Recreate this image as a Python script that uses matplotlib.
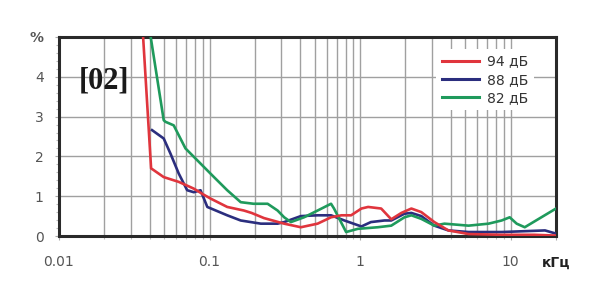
import matplotlib
matplotlib.use("Agg")
import matplotlib.pyplot as plt
from matplotlib.ticker import FixedLocator, MultipleLocator, LogLocator, NullFormatter

# ---- data (frequency kHz, THD %) ----
red_f = [0.0358, 0.0409, 0.0496, 0.0624, 0.0786, 0.0894, 0.1016, 0.131, 0.169, 0.19, 0.23,
         0.313, 0.404, 0.522, 0.641, 0.75, 0.871, 1.02, 1.13, 1.38, 1.61, 1.88, 2.19, 2.55,
         3.11, 3.86, 5.25, 8.71, 14.4, 20.0]
red_v = [5.3, 1.70, 1.48, 1.36, 1.19, 1.06, 0.94, 0.73, 0.64, 0.58, 0.45,
         0.31, 0.22, 0.31, 0.47, 0.52, 0.52, 0.69, 0.73, 0.69, 0.42, 0.58, 0.69, 0.60,
         0.35, 0.14, 0.05, 0.03, 0.03, 0.01]

blue_f = [0.0415, 0.0496, 0.055, 0.0624, 0.071, 0.0786, 0.0871, 0.0966, 0.131, 0.161, 0.219,
          0.283, 0.313, 0.404, 0.522, 0.641, 0.786, 1.02, 1.18, 1.45, 1.61, 1.97, 2.19, 2.55,
          3.11, 3.86, 5.25, 8.71, 14.4, 16.9, 20.0]
blue_v = [2.66, 2.45, 2.07, 1.57, 1.15, 1.10, 1.15, 0.73, 0.52, 0.39, 0.31,
          0.31, 0.35, 0.50, 0.52, 0.52, 0.39, 0.24, 0.35, 0.39, 0.39, 0.56, 0.58, 0.50,
          0.26, 0.14, 0.10, 0.10, 0.13, 0.14, 0.06]

green_f = [0.0395, 0.0496, 0.0509, 0.0578, 0.0692, 0.0871, 0.107, 0.131, 0.161, 0.196, 0.243,
           0.283, 0.313, 0.347, 0.424, 0.522, 0.641, 0.671, 0.807, 0.966, 1.31, 1.61, 1.97,
           2.19, 2.55, 3.11, 3.63, 5.25, 7.13, 8.71, 9.85, 10.96, 12.4, 20.0]
green_v = [5.3, 2.91, 2.87, 2.78, 2.2, 1.82, 1.48, 1.15, 0.85, 0.81, 0.81,
           0.64, 0.47, 0.35, 0.47, 0.64, 0.81, 0.69, 0.10, 0.18, 0.22, 0.26, 0.47,
           0.52, 0.43, 0.26, 0.31, 0.26, 0.31, 0.39, 0.47, 0.31, 0.22, 0.69]

series_labels = ["94 дБ", "88 дБ", "82 дБ"]
series_colors = ["#e0353d", "#2b2e7e", "#1f9a5c"]

x_ticks = [0.01, 0.1, 1, 10, 20]
x_ticklabels = ["0.01", "0.1", "1", "10", "кГц"]
y_ticks = [0, 1, 2, 3, 4, 5]
y_ticklabels = ["0", "1", "2", "3", "4", "%"]
badge = "[02]"

# ---- figure ----
fig = plt.figure(figsize=(6.0, 3.02), dpi=100)
ax = fig.add_axes([59/600, 1-236/302, (556-59)/600, (236-37)/302])

ax.set_xscale("log")
ax.set_xlim(0.01, 20)
ax.set_ylim(0, 5)

grid_c = "#a0a0a0"
ax.xaxis.set_major_locator(FixedLocator(x_ticks))
ax.xaxis.set_minor_locator(LogLocator(base=10, subs=range(2, 10), numticks=20))
ax.xaxis.set_minor_formatter(NullFormatter())
ax.set_xticklabels(x_ticklabels)
ax.yaxis.set_major_locator(FixedLocator(y_ticks))
ax.set_yticklabels(y_ticklabels)
ax.yaxis.set_minor_locator(MultipleLocator(0.2))

ax.grid(True, which="major", axis="y", color=grid_c, lw=1.0)
ax.grid(True, which="both", axis="x", color=grid_c, lw=1.0)
ax.set_axisbelow(True)

ax.tick_params(which="major", direction="out", length=3, width=0.8, color="#aaaaaa",
               labelsize=10, labelcolor="#555555")
ax.tick_params(which="minor", direction="out", length=2.5, width=0.8, color="#bbbbbb")
ax.tick_params(axis="x", which="major", pad=11)
ax.tick_params(axis="y", which="major", pad=8)

for lab in ax.get_xticklabels():
    if lab.get_text() == "кГц":
        lab.set_fontweight("bold")
        lab.set_color("#222222")
for lab in ax.get_yticklabels():
    if lab.get_text() == "%":
        lab.set_fontweight("bold")

for sp in ax.spines.values():
    sp.set_color("#2a2a2a")
    sp.set_linewidth(2.2)

for f, v, lab, c in [(blue_f, blue_v, series_labels[1], series_colors[1]),
                     (green_f, green_v, series_labels[2], series_colors[2]),
                     (red_f, red_v, series_labels[0], series_colors[0])]:
    ax.plot(f, v, color=c, lw=1.9, label=lab, solid_joinstyle="round", zorder=3)

handles, labels = ax.get_legend_handles_labels()
order = [labels.index(l) for l in series_labels]
leg = ax.legend([handles[i] for i in order], [labels[i] for i in order],
                loc="upper left", bbox_to_anchor=(0.759, 0.94), borderaxespad=0,
                frameon=True, fontsize=10, handlelength=2.7, handletextpad=0.58,
                labelspacing=0.3, borderpad=0.4)
leg.get_frame().set_facecolor("white")
leg.get_frame().set_edgecolor("none")
leg.get_frame().set_alpha(1.0)
for t in leg.get_texts():
    t.set_color("#333333")
for h in leg.legend_handles:
    h.set_linewidth(2.2)

ax.text(0.0905, 0.78, badge, transform=ax.transAxes, ha="center", va="center",
        fontsize=22, fontweight="bold", family="Liberation Serif", color="#1a1a1a")

fig.savefig("out.png", dpi=100, facecolor="white")
